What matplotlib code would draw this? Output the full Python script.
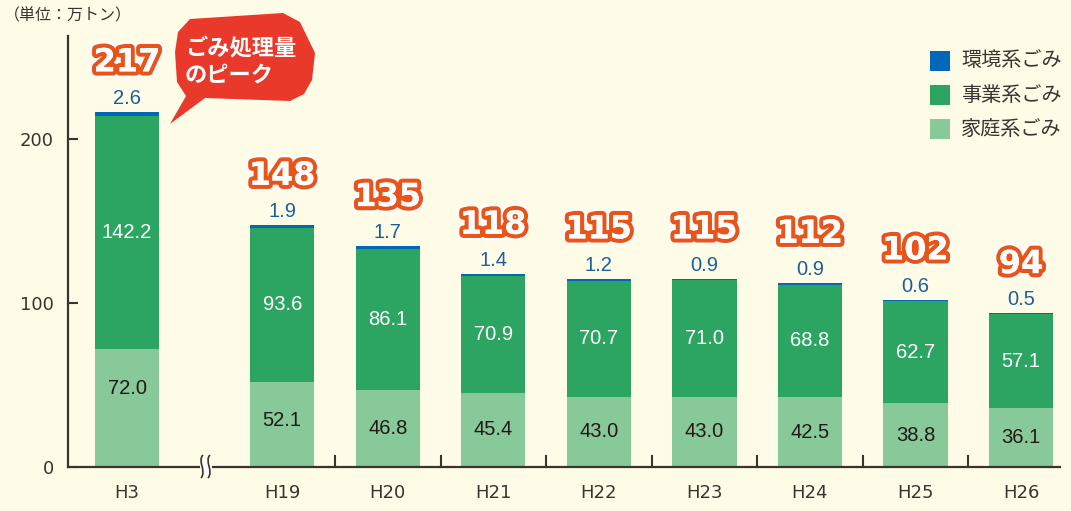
import numpy as np
import matplotlib
matplotlib.use("Agg")
import matplotlib.pyplot as plt
import matplotlib.patheffects as pe
from matplotlib.patches import Polygon, Rectangle
from matplotlib.path import Path
from matplotlib.patches import PathPatch

plt.rcParams['font.family'] = ['Noto Sans CJK JP', 'DejaVu Sans']

categories = ["H3", "H19", "H20", "H21", "H22", "H23", "H24", "H25", "H26"]
household = [72.0, 52.1, 46.8, 45.4, 43.0, 43.0, 42.5, 38.8, 36.1]
business = [142.2, 93.6, 86.1, 70.9, 70.7, 71.0, 68.8, 62.7, 57.1]
environment = [2.6, 1.9, 1.7, 1.4, 1.2, 0.9, 0.9, 0.6, 0.5]
totals = ["217", "148", "135", "118", "115", "115", "112", "102", "94"]
series_names = ["環境系ごみ", "事業系ごみ", "家庭系ごみ"]
yticks = [0, 100, 200]

BG = "#FEFCE6"
C_ENV = "#0068B7"
C_BUS = "#2CA562"
C_HOME = "#88C999"
DARK = "#3A3330"
ORANGE = "#E8541A"
BLUE_TXT = "#1A5E9E"
RED = "#E8392A"
NUMFONT = ['Liberation Sans', 'DejaVu Sans']

W, H = 1071, 511
fig = plt.figure(figsize=(W / 100, H / 100), dpi=100, facecolor=BG)

def fx(px):
    return px / W

def fy(py):
    return 1 - py / H

ax = fig.add_axes([fx(68), fy(467), fx(1060) - fx(68), fy(36) - fy(467)])
ax.set_facecolor(BG)

x = np.concatenate([[0.0], 1.47 + np.arange(len(categories) - 1)])
width = 0.61
home = np.array(household)
bus = np.array(business)
env = np.array(environment)

ax.bar(x, home, width, color=C_HOME, zorder=2)
ax.bar(x, bus, width, bottom=home, color=C_BUS, zorder=2)
ax.bar(x, env, width, bottom=home + bus, color=C_ENV, zorder=2)

ax.set_xlim(-0.56, x[-1] + 0.37)
ax.set_ylim(0, 263)

for s in ["top", "right"]:
    ax.spines[s].set_visible(False)
for s in ["left", "bottom"]:
    ax.spines[s].set_color(DARK)
    ax.spines[s].set_linewidth(1.6)

ax.set_yticks(yticks)
ax.set_yticklabels([str(v) for v in yticks], fontsize=13, color=DARK,
                   family=['DejaVu Sans'])
ax.tick_params(axis='y', direction='in', length=7, width=1.5, color=DARK, pad=10)
ax.set_xticks(x)
ax.set_xticklabels(categories, fontsize=13, color=DARK, family=['DejaVu Sans'])
ax.tick_params(axis='x', length=0, pad=12)
# minor ticks between bars (after the break)
ax.set_xticks((x[1:-1] + x[2:]) / 2, minor=True)
ax.tick_params(axis='x', which='minor', direction='in', length=9, width=1.5, color=DARK)

top = home + bus + env
for i in range(len(categories)):
    ylab = max(home[i] / 2, home[i] - 23.8)
    ax.text(x[i], ylab, f"{household[i]:.1f}", ha='center', va='center',
            fontsize=14.5, color="#231815", family=NUMFONT, zorder=3)
    ax.text(x[i], home[i] + bus[i] / 2, f"{business[i]:.1f}", ha='center', va='center',
            fontsize=14.5, color="white", family=NUMFONT, zorder=3)
    ax.annotate(f"{environment[i]:.1f}", (x[i], top[i]), xytext=(0, 3),
                textcoords='offset points', ha='center', va='bottom',
                fontsize=14.5, color=BLUE_TXT, family=NUMFONT)
    t = ax.annotate(totals[i], (x[i], top[i]), xytext=(0, 24),
                    textcoords='offset points', ha='center', va='bottom',
                    fontsize=23, fontweight='bold', color="white",
                    family=['DejaVu Sans'])
    t.set_path_effects([pe.withStroke(linewidth=9, foreground="white"),
                        pe.withStroke(linewidth=6, foreground=ORANGE),
                        pe.Normal()])

# axis break symbol
ax.add_patch(Rectangle((fx(200), fy(472)), fx(212) - fx(200), fy(462) - fy(472),
                       transform=fig.transFigure, facecolor=BG, edgecolor='none',
                       zorder=5, clip_on=False))
fig.add_artist(Polygon([(fx(203), fy(458)), (fx(209), fy(458)), (fx(211), fy(476)), (fx(205), fy(476))],
                       closed=True, transform=fig.transFigure, facecolor='white',
                       edgecolor='none', zorder=5.5))
for off in (0, 7):
    x0 = 201 + off
    verts = [(x0 + 2, 455), (x0 - 4, 461), (x0 + 6, 471), (x0 + 0, 478)]
    vv = [(fx(a), fy(b)) for a, b in verts]
    path = Path(vv, [Path.MOVETO, Path.CURVE4, Path.CURVE4, Path.CURVE4])
    fig.add_artist(PathPatch(path, transform=fig.transFigure, facecolor='none',
                             edgecolor=DARK, linewidth=1.2, zorder=6))

# unit label
fig.text(fx(4), fy(16), "（単位：万トン）", fontsize=11.5, color=DARK, va='center', ha='left')

# speech bubble
bubble_px = [(175, 52), (178, 32), (190, 19), (283, 13), (300, 22), (315, 53), (312, 80),
             (304, 94), (290, 101), (205, 98), (170, 124), (186, 96), (177, 82)]
fig.add_artist(Polygon([(fx(a), fy(b)) for a, b in bubble_px], closed=True,
                       transform=fig.transFigure, facecolor=RED, edgecolor='none',
                       zorder=4))
fig.text(fx(185), fy(48), "ごみ処理量", fontsize=16, fontweight='bold', color='white',
         va='center', ha='left', zorder=5)
fig.text(fx(185), fy(75), "のピーク", fontsize=16, fontweight='bold', color='white',
         va='center', ha='left', zorder=5)

# legend
for j, (name, col) in enumerate(zip(series_names, [C_ENV, C_BUS, C_HOME])):
    ycen = 61 + j * 34
    fig.add_artist(Rectangle((fx(930), fy(ycen + 10)), fx(20), fy(0) - fy(20),
                             transform=fig.transFigure, facecolor=col, edgecolor='none'))
    fig.text(fx(961), fy(ycen), name, fontsize=14.5, color=DARK, va='center', ha='left')

fig.savefig("out.png", dpi=100, facecolor=BG)
